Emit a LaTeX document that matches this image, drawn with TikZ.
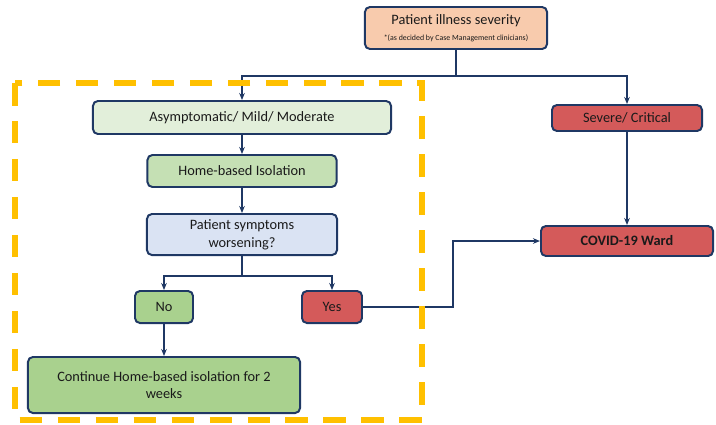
\documentclass[tikz,border=0pt]{standalone}
\usepackage{fontspec}
\setmainfont{Carlito}
\usetikzlibrary{arrows.meta}
\definecolor{navy}{HTML}{1F3864}
\definecolor{peach}{HTML}{F8CBAD}
\definecolor{palegreen}{HTML}{E2EFDA}
\definecolor{midgreen}{HTML}{C5E0B4}
\definecolor{paleblue}{HTML}{DAE3F3}
\definecolor{leafgreen}{HTML}{A9D18E}
\definecolor{wardred}{HTML}{D45A5A}
\definecolor{amber}{HTML}{FFC000}
\definecolor{ink}{HTML}{1A1A1A}

\begin{document}
\begin{tikzpicture}[x=0.025cm, y=-0.025cm,
  box/.style={draw=navy, line width=1.4pt, rounded corners=3.5pt, align=center,
    text=ink, font=\fontsize{10.2}{12.5}\selectfont, inner sep=2pt},
  link/.style={draw=navy, line width=1.4pt},
  arr/.style={link, -{Stealth[length=5pt,width=4pt]}}]
  \useasboundingbox (0,0) rectangle (716,424);
  \node[box, fill=peach, minimum width=4.55cm, minimum height=1.05cm] (sev) at (456,28)
    {Patient illness severity\\[-1pt]{\fontsize{5.6}{6.5}\selectfont *(as decided by Case Management clinicians)}};
  \node[box, fill=palegreen, minimum width=7.45cm, minimum height=0.825cm] (asym) at (242,117.5)
    {Asymptomatic/ Mild/ Moderate};
  \node[box, fill=midgreen, minimum width=4.725cm, minimum height=0.8cm] (home) at (242,171)
    {Home-based Isolation};
  \node[box, fill=paleblue, minimum width=4.75cm, minimum height=1.025cm] (worse) at (242,234.5)
    {Patient symptoms\\worsening?};
  \node[box, fill=leafgreen, minimum width=1.45cm, minimum height=0.8cm] (no) at (164,307) {No};
  \node[box, fill=wardred, minimum width=1.5cm, minimum height=0.8cm] (yes) at (332,307) {Yes};
  \node[box, fill=leafgreen, minimum width=6.8cm, minimum height=1.4cm] (cont) at (164,385)
    {Continue Home-based isolation for 2\\weeks};
  \node[box, fill=wardred, minimum width=3.75cm, minimum height=0.65cm] (crit) at (627,118)
    {Severe/ Critical};
  \node[box, fill=wardred, minimum width=4.3cm, minimum height=0.75cm, font=\fontsize{10.2}{12.5}\selectfont\bfseries] (ward) at (627,241)
    {COVID-19 Ward};

  \path (sev.south) ++(0,26) coordinate (split);
  \path (worse.south) ++(0,20) coordinate (fork);
  \draw[link] (sev.south) -- (split);
  \draw[arr] (split) -| (asym.north);
  \draw[arr] (split) -| (crit.north);
  \draw[arr] (asym) -- (home);
  \draw[arr] (home) -- (worse);
  \draw[link] (worse.south) -- (fork);
  \draw[arr] (fork) -| (no.north);
  \draw[arr] (fork) -| (yes.north);
  \draw[arr] (no) -- (cont);
  \draw[arr] (crit) -- (ward);
  \draw[arr] (yes.east) -- ++(90,0) |- (ward.west);

  \draw[amber, line width=3.6pt, dash pattern=on 16pt off 11pt] (15,83) rectangle (422,420);
\end{tikzpicture}
\end{document}
